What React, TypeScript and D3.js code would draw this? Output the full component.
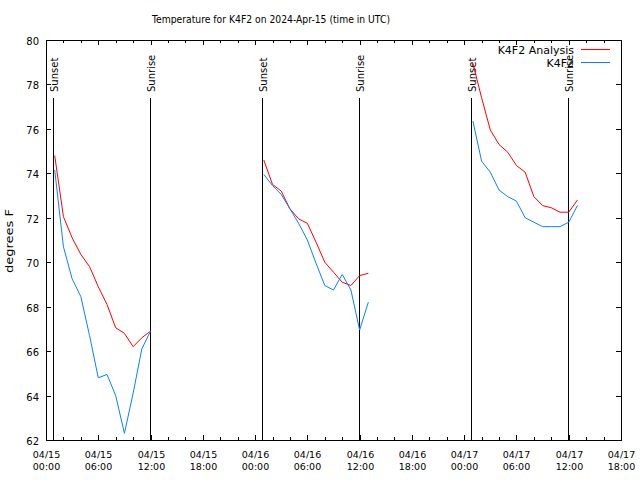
import { useEffect, useRef } from "react";
import * as d3 from "d3";

// hours after 2024-04-15 00:00 UTC
const hoursA = [1, 2, 3, 4, 5, 6, 7, 8, 9, 10, 11, 12];
const hoursB = [25, 26, 27, 28, 29, 30, 31, 32, 33, 34, 35, 36, 37];
const hoursC = [49, 50, 51, 52, 53, 54, 55, 56, 57, 58, 59, 60, 61];

const analysisA = [74.8, 72.05, 71.1, 70.35, 69.8, 68.9, 68.1, 67.05, 66.8, 66.2, 66.6, 66.9];
const analysisB = [74.6, 73.5, 73.2, 72.4, 71.95, 71.75, 70.9, 70.0, 69.55, 69.1, 68.95, 69.4, 69.5];
const analysisC = [78.95, 77.4, 75.95, 75.3, 74.95, 74.35, 74.05, 72.95, 72.55, 72.45, 72.25, 72.25, 72.8];

const obsA = [74.15, 70.7, 69.25, 68.45, 66.7, 64.8, 64.95, 64.0, 62.3, 64.1, 66.1, 66.9];
const obsB = [73.95, 73.45, 73.05, 72.4, 71.75, 71.0, 69.95, 68.95, 68.75, 69.45, 68.75, 66.95, 68.2];
const obsC = [76.35, 74.55, 74.05, 73.25, 72.95, 72.75, 72.0, 71.8, 71.6, 71.6, 71.6, 71.8, 72.55];

const sunEvents = ["Sunset", "Sunrise", "Sunset", "Sunrise", "Sunset", "Sunrise"];
const sunTimes = [
  "2024-04-15T00:48Z", "2024-04-15T11:57Z",
  "2024-04-16T00:48Z", "2024-04-16T11:56Z",
  "2024-04-17T00:48Z", "2024-04-17T11:55Z",
];

const yTicks = [62, 64, 66, 68, 70, 72, 74, 76, 78, 80];

const seriesNames = ["K4F2 Analysis", "K4F2"];
const seriesColors = ["#ff0000", "#0a80ff"];

const FONT = "'DejaVu Sans', sans-serif";

export default function App() {
  const svgRef = useRef<SVGSVGElement>(null);

  useEffect(() => {
    if (!svgRef.current) return;
    const svg = d3.select(svgRef.current);
    svg.selectAll("*").remove();

    const left = 46, right = 621, top = 40, bottom = 440;
    const t0 = new Date("2024-04-15T00:00Z");
    const t1 = new Date("2024-04-17T18:00Z");
    const hr = (h: number) => new Date(t0.getTime() + h * 3600e3);

    const x = d3.scaleUtc().domain([t0, t1]).range([left, right]);
    const y = d3.scaleLinear().domain([62, 80]).range([bottom, top]);

    const g = svg.append("g").attr("font-family", FONT).attr("fill", "#000");

    // title
    g.append("text")
      .attr("x", 271).attr("y", 23)
      .attr("text-anchor", "middle")
      .attr("font-size", 10)
      .attr("textLength", 238).attr("lengthAdjust", "spacingAndGlyphs")
      .text("Temperature for K4F2 on 2024-Apr-15 (time in UTC)");

    // y label
    g.append("text")
      .attr("transform", "translate(13,241) rotate(-90)")
      .attr("text-anchor", "middle")
      .attr("font-size", 11)
      .attr("textLength", 64).attr("lengthAdjust", "spacingAndGlyphs")
      .text("degrees F");

    // y ticks + labels
    yTicks.forEach((v) => {
      const yy = Math.round(y(v)) + 0.5;
      g.append("line").attr("x1", left).attr("x2", left + 5).attr("y1", yy).attr("y2", yy)
        .attr("stroke", "#000").attr("shape-rendering", "crispEdges");
      g.append("line").attr("x1", right - 5).attr("x2", right).attr("y1", yy).attr("y2", yy)
        .attr("stroke", "#000").attr("shape-rendering", "crispEdges");
      g.append("text").attr("x", 39).attr("y", yy + 4)
        .attr("text-anchor", "end").attr("font-size", 10)
        .text(v);
    });

    // x ticks: major every 6h, minor every 2h
    const minor = d3.utcHour.every(2)!.range(t0, new Date(t1.getTime() + 1));
    const fmtDay = d3.utcFormat("%m/%d");
    const fmtTime = d3.utcFormat("%H:%M");
    minor.forEach((d) => {
      const isMajor = d.getUTCHours() % 6 === 0;
      const len = isMajor ? 5 : 3;
      const xx = Math.round(x(d)) + 0.5;
      g.append("line").attr("x1", xx).attr("x2", xx).attr("y1", bottom).attr("y2", bottom - len)
        .attr("stroke", "#000").attr("shape-rendering", "crispEdges");
      g.append("line").attr("x1", xx).attr("x2", xx).attr("y1", top).attr("y2", top + len)
        .attr("stroke", "#000").attr("shape-rendering", "crispEdges");
      if (isMajor) {
        g.append("text").attr("x", xx).attr("y", 458).attr("text-anchor", "middle")
          .attr("font-size", 9.5).text(fmtDay(d));
        g.append("text").attr("x", xx).attr("y", 470).attr("text-anchor", "middle")
          .attr("font-size", 9.5).text(fmtTime(d));
      }
    });

    // sunrise / sunset markers
    sunEvents.forEach((name, i) => {
      const xx = Math.round(x(new Date(sunTimes[i]))) + 0.5;
      g.append("line").attr("x1", xx).attr("x2", xx).attr("y1", 98).attr("y2", bottom)
        .attr("stroke", "#000").attr("shape-rendering", "crispEdges");
      g.append("text")
        .attr("transform", `translate(${xx + 4},92) rotate(-90)`)
        .attr("font-size", 10)
        .text(name);
    });

    // series
    const line = d3.line<[number, number]>()
      .x((d) => x(hr(d[0])))
      .y((d) => y(d[1]));

    const segments = [
      [hoursA, analysisA, obsA],
      [hoursB, analysisB, obsB],
      [hoursC, analysisC, obsC],
    ] as const;

    segments.forEach(([hs, an, ob]) => {
      [an, ob].forEach((vals, k) => {
        svg.append("path")
          .datum(hs.map((h, i) => [h, vals[i]] as [number, number]))
          .attr("d", line)
          .attr("fill", "none")
          .attr("stroke", seriesColors[k])
          .attr("stroke-width", 1);
      });
    });

    // legend
    seriesNames.forEach((name, k) => {
      const yy = 50 + k * 13;
      g.append("text").attr("x", 574).attr("y", yy + 4)
        .attr("text-anchor", "end").attr("font-size", 11)
        .text(name);
      svg.append("line").attr("x1", 581).attr("x2", 610).attr("y1", yy - 0.5).attr("y2", yy - 0.5)
        .attr("stroke", seriesColors[k]).attr("stroke-width", 1);
    });

    // frame
    svg.append("rect")
      .attr("x", left + 0.5).attr("y", top + 0.5)
      .attr("width", right - left).attr("height", bottom - top)
      .attr("fill", "none").attr("stroke", "#000").attr("shape-rendering", "crispEdges");
  }, []);

  return (
    <div style={{ position: "absolute", left: 0, top: 0 }}>
      <svg ref={svgRef} width={640} height={480} style={{ display: "block", background: "#fff" }} />
    </div>
  );
}
